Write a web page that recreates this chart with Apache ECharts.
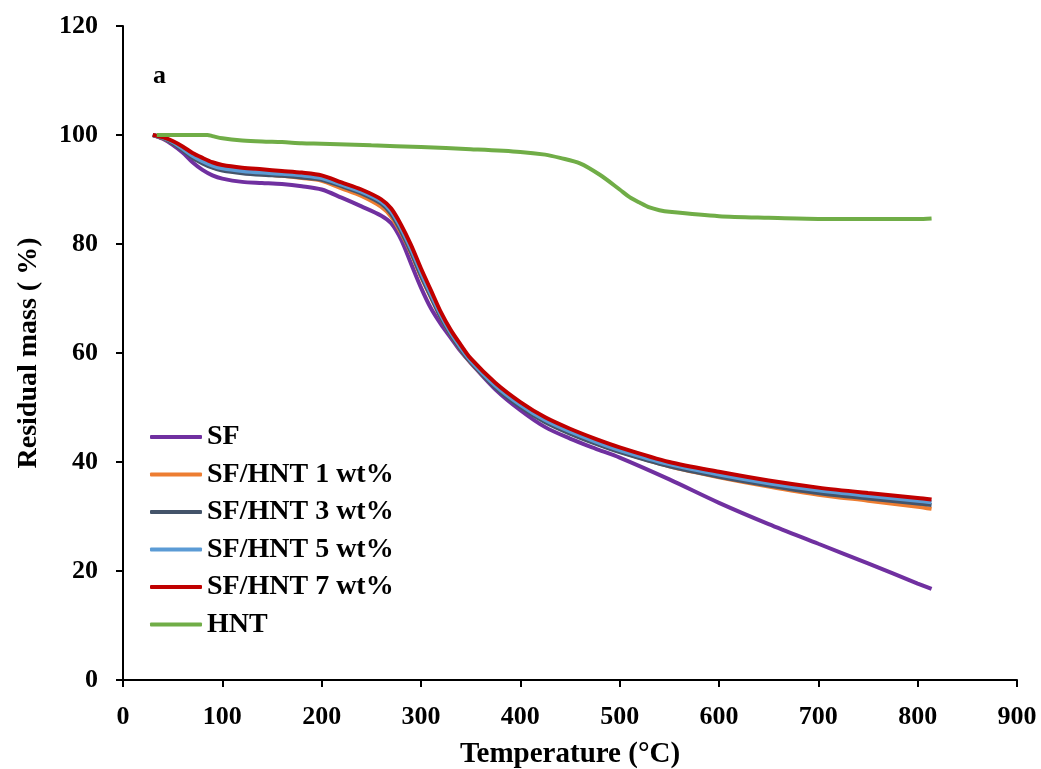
<!DOCTYPE html>
<html>
<head>
<meta charset="utf-8">
<script src="https://cdn.jsdelivr.net/npm/echarts@6/dist/echarts.min.js"></script>
<style>
  html, body { margin: 0; padding: 0; background: #fff; }
  #chart { width: 1041px; height: 769px; }
</style>
</head>
<body>
<div id="chart"></div>
<script>
// temperature grid (°C) shared by the SF and SF/HNT curves
const temps = [30, 40, 50, 60, 70, 80, 90, 100, 120, 140, 160, 180, 200, 220, 240, 260, 270, 280, 290, 300,
  310, 320, 330, 340, 350, 375, 400, 425, 450, 475, 500, 550, 600, 650, 700, 750, 800, 814];

const sf = [100, 99.3, 98.2, 96.8, 95.0, 93.6, 92.6, 92.0, 91.4, 91.2, 91.0, 90.6, 90.0, 88.5, 86.9, 85.2, 83.8, 80.8, 76.4, 72.0,
  68.2, 65.3, 62.8, 60.3, 58.2, 53.3, 49.5, 46.4, 44.3, 42.5, 40.8, 36.8, 32.5, 28.6, 25.0, 21.4, 17.7, 16.7];
const hnt1 = [100, 99.4, 98.5, 97.3, 95.9, 94.9, 94.1, 93.6, 93.1, 92.8, 92.5, 92.1, 91.6, 90.2, 88.8, 86.8, 85.0, 82.0, 78.3, 74.0,
  70.2, 66.5, 63.3, 60.6, 58.3, 53.8, 50.3, 47.5, 45.3, 43.5, 41.9, 39.2, 37.2, 35.5, 34.0, 32.9, 31.8, 31.4];
const hnt3 = [100, 99.4, 98.5, 97.2, 95.8, 94.8, 94.0, 93.5, 93.0, 92.7, 92.5, 92.2, 91.8, 90.6, 89.3, 87.4, 85.5, 82.3, 78.5, 74.2,
  70.3, 66.5, 63.3, 60.6, 58.3, 53.6, 50.1, 47.3, 45.2, 43.4, 41.8, 39.2, 37.3, 35.7, 34.3, 33.3, 32.4, 32.1];
const hnt5 = [100, 99.5, 98.7, 97.5, 96.2, 95.2, 94.4, 93.9, 93.4, 93.1, 92.9, 92.6, 92.1, 90.9, 89.6, 87.8, 86.0, 82.9, 79.1, 74.8,
  70.8, 67.0, 63.7, 61.0, 58.6, 54.0, 50.5, 47.7, 45.6, 43.8, 42.2, 39.6, 37.7, 36.1, 34.8, 33.8, 32.9, 32.6];
const hnt7 = [100, 99.6, 98.9, 97.9, 96.7, 95.8, 95.0, 94.5, 94.0, 93.7, 93.4, 93.1, 92.6, 91.3, 90.0, 88.2, 86.5, 83.5, 79.8, 75.5,
  71.5, 67.5, 64.2, 61.5, 59.0, 54.5, 51.0, 48.2, 46.1, 44.3, 42.7, 40.0, 38.2, 36.6, 35.3, 34.3, 33.4, 33.1];

// pure HNT has its own temperature grid
const hntTemps = [34, 50, 70, 85, 90, 100, 120, 140, 160, 180, 200, 250, 300, 350, 400, 425, 440, 460, 480, 500,
  510, 520, 530, 540, 550, 600, 650, 700, 750, 800, 814];
const hnt = [100, 100, 100, 100, 99.8, 99.4, 99.0, 98.8, 98.7, 98.5, 98.4, 98.1, 97.8, 97.4, 96.9, 96.4, 95.8, 94.8, 92.7, 90.0,
  88.6, 87.6, 86.7, 86.2, 85.9, 85.1, 84.8, 84.6, 84.6, 84.6, 84.7];

const names = ['SF', 'SF/HNT 1 wt%', 'SF/HNT 3 wt%', 'SF/HNT 5 wt%', 'SF/HNT 7 wt%', 'HNT'];
const colors = ['#7030A0', '#ED7D31', '#44546A', '#5B9BD5', '#C00000', '#70AD47'];

const xTicks = [0, 100, 200, 300, 400, 500, 600, 700, 800, 900];
const yTicks = [0, 20, 40, 60, 80, 100, 120];

const font = "'Liberation Serif', 'Times New Roman', serif";

function pairs(xs, ys) {
  return xs.map((x, i) => [x, ys[i]]);
}

const seriesData = [
  pairs(temps, sf),
  pairs(temps, hnt1),
  pairs(temps, hnt3),
  pairs(temps, hnt5),
  pairs(temps, hnt7),
  pairs(hntTemps, hnt),
];

const chart = echarts.init(document.getElementById('chart'));

const option = {
  animation: false,
  backgroundColor: '#fff',
  // fixed plot box, don't let labels shrink it
  grid: { left: 123, right: 24, top: 26, bottom: 89, outerBoundsMode: 'none' },
  legend: {
    orient: 'vertical',
    left: 145,
    top: 418,
    itemWidth: 52,
    itemHeight: 4,
    itemGap: 9.5,
    icon: 'roundRect',
    data: names,
    textStyle: { fontFamily: font, fontWeight: 'bold', fontSize: 28, color: '#000', lineHeight: 28 },
  },
  xAxis: {
    type: 'value',
    min: xTicks[0],
    max: xTicks[xTicks.length - 1],
    interval: 100,
    name: 'Temperature (°C)',
    nameLocation: 'middle',
    nameGap: 60,
    nameTextStyle: { fontFamily: font, fontWeight: 'bold', fontSize: 29, color: '#000' },
    axisLine: { lineStyle: { color: '#000', width: 2 } },
    axisTick: { show: true, inside: false, length: 7, lineStyle: { color: '#000', width: 2 } },
    axisLabel: { fontFamily: font, fontWeight: 'bold', fontSize: 26, color: '#000', margin: 24 },
    splitLine: { show: false },
  },
  yAxis: {
    type: 'value',
    min: yTicks[0],
    max: yTicks[yTicks.length - 1],
    interval: 20,
    name: 'Residual mass ( %)',
    nameLocation: 'middle',
    nameGap: 80,
    nameTextStyle: { fontFamily: font, fontWeight: 'bold', fontSize: 28, color: '#000' },
    axisLine: { show: true, lineStyle: { color: '#000', width: 2 } },
    axisTick: { show: true, inside: false, length: 7, lineStyle: { color: '#000', width: 2 } },
    axisLabel: { fontFamily: font, fontWeight: 'bold', fontSize: 26, color: '#000', margin: 25 },
    splitLine: { show: false },
  },
  graphic: [
    {
      type: 'text',
      left: 153,
      top: 63,
      style: { text: 'a', font: "bold 26px 'Liberation Serif', serif", fill: '#000' },
    },
  ],
  series: names.map((n, i) => ({
    name: n,
    type: 'line',
    data: seriesData[i],
    smooth: 0.3,
    showSymbol: false,
    symbol: 'none',
    color: colors[i],
    lineStyle: { color: colors[i], width: 4 },
    z: 2 + i,
  })),
};

chart.setOption(option);
</script>
</body>
</html>
